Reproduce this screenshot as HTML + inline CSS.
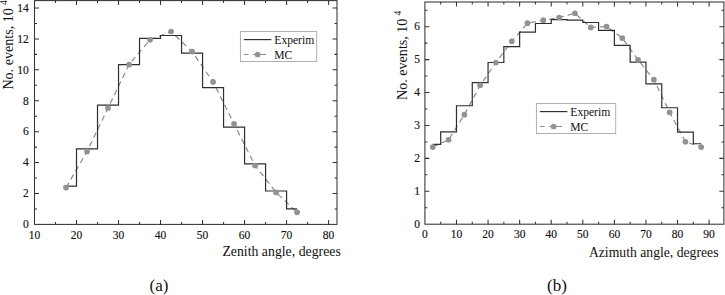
<!DOCTYPE html>
<html><head><meta charset="utf-8"><title>Events vs angle</title>
<style>
html,body{margin:0;padding:0;background:#fff;width:725px;height:295px;overflow:hidden}
svg{display:block;font-family:"Liberation Serif",serif;fill:#111111}
text.t{stroke:#111111;stroke-width:0.15px}
</style></head>
<body>
<svg width="725" height="295" viewBox="0 0 725 295">
<rect width="725" height="295" fill="#fff"/>
<path d="M66.01,187.61 L87.02,151.44 L108.02,108 L129.03,64.57 L150.04,39.84 L171.05,31.49 L192.05,51.58 L213.06,81.88 L234.07,123.93 L255.07,165.51 L276.08,192.4 L297.09,212.34" fill="none" stroke="#8a8a8a" stroke-width="1.2" stroke-dasharray="5.5 4"/>
<path d="M66.01,186.22 L76.51,186.22 L76.51,148.81 L97.52,148.81 L97.52,105.22 L118.53,105.22 L118.53,64.57 L139.53,64.57 L139.53,38.44 L160.54,38.44 L160.54,35.51 L181.55,35.51 L181.55,53.13 L202.56,53.13 L202.56,87.6 L223.56,87.6 L223.56,127.17 L244.57,127.17 L244.57,163.96 L265.58,163.96 L265.58,191.01 L286.58,191.01 L286.58,208.94 L297.09,208.94" fill="none" stroke="#2e2e2e" stroke-width="1.2" stroke-linejoin="miter"/>
<circle cx="66.01" cy="187.61" r="2.85" fill="#929292"/>
<circle cx="87.02" cy="151.44" r="2.85" fill="#929292"/>
<circle cx="108.02" cy="108" r="2.85" fill="#929292"/>
<circle cx="129.03" cy="64.57" r="2.85" fill="#929292"/>
<circle cx="150.04" cy="39.84" r="2.85" fill="#929292"/>
<circle cx="171.05" cy="31.49" r="2.85" fill="#929292"/>
<circle cx="192.05" cy="51.58" r="2.85" fill="#929292"/>
<circle cx="213.06" cy="81.88" r="2.85" fill="#929292"/>
<circle cx="234.07" cy="123.93" r="2.85" fill="#929292"/>
<circle cx="255.07" cy="165.51" r="2.85" fill="#929292"/>
<circle cx="276.08" cy="192.4" r="2.85" fill="#929292"/>
<circle cx="297.09" cy="212.34" r="2.85" fill="#929292"/>
<path d="M76.51,224.4v-4.5M76.51,0.6v4.5M118.53,224.4v-4.5M118.53,0.6v4.5M160.54,224.4v-4.5M160.54,0.6v4.5M202.56,224.4v-4.5M202.56,0.6v4.5M244.57,224.4v-4.5M244.57,0.6v4.5M286.58,224.4v-4.5M286.58,0.6v4.5M328.6,224.4v-4.5M328.6,0.6v4.5M55.51,224.4v-2.5M55.51,0.6v2.5M97.52,224.4v-2.5M97.52,0.6v2.5M139.53,224.4v-2.5M139.53,0.6v2.5M181.55,224.4v-2.5M181.55,0.6v2.5M223.56,224.4v-2.5M223.56,0.6v2.5M265.58,224.4v-2.5M265.58,0.6v2.5M307.59,224.4v-2.5M307.59,0.6v2.5M34.5,193.48h4.5M337,193.48h-4.5M34.5,162.57h4.5M337,162.57h-4.5M34.5,131.65h4.5M337,131.65h-4.5M34.5,100.74h4.5M337,100.74h-4.5M34.5,69.82h4.5M337,69.82h-4.5M34.5,38.91h4.5M337,38.91h-4.5M34.5,7.99h4.5M337,7.99h-4.5M34.5,208.94h2.5M337,208.94h-2.5M34.5,178.03h2.5M337,178.03h-2.5M34.5,147.11h2.5M337,147.11h-2.5M34.5,116.2h2.5M337,116.2h-2.5M34.5,85.28h2.5M337,85.28h-2.5M34.5,54.37h2.5M337,54.37h-2.5M34.5,23.45h2.5M337,23.45h-2.5" stroke="#333333" stroke-width="1.05" fill="none"/>
<rect x="34.5" y="0.6" width="302.5" height="223.8" fill="none" stroke="#333333" stroke-width="1.05"/>
<text x="34.5" y="238.5" text-anchor="middle" class="t" font-size="11.5">10</text>
<text x="76.51" y="238.5" text-anchor="middle" class="t" font-size="11.5">20</text>
<text x="118.53" y="238.5" text-anchor="middle" class="t" font-size="11.5">30</text>
<text x="160.54" y="238.5" text-anchor="middle" class="t" font-size="11.5">40</text>
<text x="202.56" y="238.5" text-anchor="middle" class="t" font-size="11.5">50</text>
<text x="244.57" y="238.5" text-anchor="middle" class="t" font-size="11.5">60</text>
<text x="286.58" y="238.5" text-anchor="middle" class="t" font-size="11.5">70</text>
<text x="328.6" y="238.5" text-anchor="middle" class="t" font-size="11.5">80</text>
<text x="28.7" y="228.2" text-anchor="end" class="t" font-size="11.5">0</text>
<text x="28.7" y="197.28" text-anchor="end" class="t" font-size="11.5">2</text>
<text x="28.7" y="166.37" text-anchor="end" class="t" font-size="11.5">4</text>
<text x="28.7" y="135.45" text-anchor="end" class="t" font-size="11.5">6</text>
<text x="28.7" y="104.54" text-anchor="end" class="t" font-size="11.5">8</text>
<text x="28.7" y="73.62" text-anchor="end" class="t" font-size="11.5">10</text>
<text x="28.7" y="42.71" text-anchor="end" class="t" font-size="11.5">12</text>
<text x="28.7" y="11.79" text-anchor="end" class="t" font-size="11.5">14</text>
<rect x="240.4" y="31.4" width="76.3" height="30.1" fill="#fff" stroke="#a8a8a8" stroke-width="0.9"/>
<path d="M243.8,39.6H271.3" stroke="#2e2e2e" stroke-width="1.2"/>
<text x="274.3" y="43.9" font-size="11.6">Experim</text>
<path d="M243.8,54.5h4.8M253.1,54.5H257.6M260.2,54.5h5.9" stroke="#8a8a8a" stroke-width="1.2"/>
<circle cx="257.6" cy="54.5" r="2.85" fill="#929292"/>
<text x="274.3" y="58.5" font-size="11.6">MC</text>
<text transform="translate(13.3,89.6) rotate(-90)" font-size="14.1">No. events, 10<tspan font-size="9.5" dx="3.2" dy="-6.5">4</tspan></text>
<text x="222.4" y="255.7" font-size="13.8">Zenith angle, degrees</text>
<text x="159" y="291" text-anchor="middle" font-size="17">(a)</text>
<path d="M432.79,147.04 L448.58,139.77 L464.38,114.67 L480.16,85.27 L495.95,62.48 L511.75,41.34 L527.53,23.18 L543.32,20.2 L559.12,17.56 L574.9,13.27 L590.69,27.47 L606.49,26.48 L622.27,38.04 L638.06,59.84 L653.86,79.66 L669.64,112.36 L685.43,141.76 L701.22,147.04" fill="none" stroke="#8a8a8a" stroke-width="1.2" stroke-dasharray="5.5 4"/>
<path d="M432.79,144.4 L440.69,144.4 L440.69,131.85 L456.48,131.85 L456.48,105.75 L472.27,105.75 L472.27,82.63 L488.06,82.63 L488.06,62.48 L503.85,62.48 L503.85,46.63 L519.64,46.63 L519.64,32.1 L535.43,32.1 L535.43,23.51 L551.22,23.51 L551.22,19.54 L567.01,19.54 L567.01,20.2 L582.8,20.2 L582.8,22.52 L598.59,22.52 L598.59,30.44 L614.38,30.44 L614.38,45.31 L630.17,45.31 L630.17,62.15 L645.96,62.15 L645.96,83.95 L661.75,83.95 L661.75,107.73 L677.54,107.73 L677.54,132.18 L693.33,132.18 L693.33,143.74 L701.22,143.74" fill="none" stroke="#2e2e2e" stroke-width="1.2" stroke-linejoin="miter"/>
<circle cx="432.79" cy="147.04" r="2.85" fill="#929292"/>
<circle cx="448.58" cy="139.77" r="2.85" fill="#929292"/>
<circle cx="464.38" cy="114.67" r="2.85" fill="#929292"/>
<circle cx="480.16" cy="85.27" r="2.85" fill="#929292"/>
<circle cx="495.95" cy="62.48" r="2.85" fill="#929292"/>
<circle cx="511.75" cy="41.34" r="2.85" fill="#929292"/>
<circle cx="527.53" cy="23.18" r="2.85" fill="#929292"/>
<circle cx="543.32" cy="20.2" r="2.85" fill="#929292"/>
<circle cx="559.12" cy="17.56" r="2.85" fill="#929292"/>
<circle cx="574.9" cy="13.27" r="2.85" fill="#929292"/>
<circle cx="590.69" cy="27.47" r="2.85" fill="#929292"/>
<circle cx="606.49" cy="26.48" r="2.85" fill="#929292"/>
<circle cx="622.27" cy="38.04" r="2.85" fill="#929292"/>
<circle cx="638.06" cy="59.84" r="2.85" fill="#929292"/>
<circle cx="653.86" cy="79.66" r="2.85" fill="#929292"/>
<circle cx="669.64" cy="112.36" r="2.85" fill="#929292"/>
<circle cx="685.43" cy="141.76" r="2.85" fill="#929292"/>
<circle cx="701.22" cy="147.04" r="2.85" fill="#929292"/>
<path d="M456.48,224.2v-4.5M456.48,2v4.5M488.06,224.2v-4.5M488.06,2v4.5M519.64,224.2v-4.5M519.64,2v4.5M551.22,224.2v-4.5M551.22,2v4.5M582.8,224.2v-4.5M582.8,2v4.5M614.38,224.2v-4.5M614.38,2v4.5M645.96,224.2v-4.5M645.96,2v4.5M677.54,224.2v-4.5M677.54,2v4.5M709.12,224.2v-4.5M709.12,2v4.5M440.69,224.2v-2.5M440.69,2v2.5M472.27,224.2v-2.5M472.27,2v2.5M503.85,224.2v-2.5M503.85,2v2.5M535.43,224.2v-2.5M535.43,2v2.5M567.01,224.2v-2.5M567.01,2v2.5M598.59,224.2v-2.5M598.59,2v2.5M630.17,224.2v-2.5M630.17,2v2.5M661.75,224.2v-2.5M661.75,2v2.5M693.33,224.2v-2.5M693.33,2v2.5M424.9,191.28h4.5M723.9,191.28h-4.5M424.9,158.36h4.5M723.9,158.36h-4.5M424.9,125.44h4.5M723.9,125.44h-4.5M424.9,92.52h4.5M723.9,92.52h-4.5M424.9,59.6h4.5M723.9,59.6h-4.5M424.9,26.68h4.5M723.9,26.68h-4.5M424.9,207.74h2.5M723.9,207.74h-2.5M424.9,174.82h2.5M723.9,174.82h-2.5M424.9,141.9h2.5M723.9,141.9h-2.5M424.9,108.98h2.5M723.9,108.98h-2.5M424.9,76.06h2.5M723.9,76.06h-2.5M424.9,43.14h2.5M723.9,43.14h-2.5M424.9,10.22h2.5M723.9,10.22h-2.5" stroke="#333333" stroke-width="1.05" fill="none"/>
<rect x="424.9" y="2" width="299" height="222.2" fill="none" stroke="#333333" stroke-width="1.05"/>
<text x="424.9" y="238.3" text-anchor="middle" class="t" font-size="11.5">0</text>
<text x="456.48" y="238.3" text-anchor="middle" class="t" font-size="11.5">10</text>
<text x="488.06" y="238.3" text-anchor="middle" class="t" font-size="11.5">20</text>
<text x="519.64" y="238.3" text-anchor="middle" class="t" font-size="11.5">30</text>
<text x="551.22" y="238.3" text-anchor="middle" class="t" font-size="11.5">40</text>
<text x="582.8" y="238.3" text-anchor="middle" class="t" font-size="11.5">50</text>
<text x="614.38" y="238.3" text-anchor="middle" class="t" font-size="11.5">60</text>
<text x="645.96" y="238.3" text-anchor="middle" class="t" font-size="11.5">70</text>
<text x="677.54" y="238.3" text-anchor="middle" class="t" font-size="11.5">80</text>
<text x="709.12" y="238.3" text-anchor="middle" class="t" font-size="11.5">90</text>
<text x="419.9" y="228" text-anchor="end" class="t" font-size="11.5">0</text>
<text x="419.9" y="195.08" text-anchor="end" class="t" font-size="11.5">1</text>
<text x="419.9" y="162.16" text-anchor="end" class="t" font-size="11.5">2</text>
<text x="419.9" y="129.24" text-anchor="end" class="t" font-size="11.5">3</text>
<text x="419.9" y="96.32" text-anchor="end" class="t" font-size="11.5">4</text>
<text x="419.9" y="63.4" text-anchor="end" class="t" font-size="11.5">5</text>
<text x="419.9" y="30.48" text-anchor="end" class="t" font-size="11.5">6</text>
<rect x="536.4" y="103.4" width="79.3" height="30.1" fill="#fff" stroke="#a8a8a8" stroke-width="0.9"/>
<path d="M539.8,111.6H567.3" stroke="#2e2e2e" stroke-width="1.2"/>
<text x="570.3" y="115.9" font-size="11.6">Experim</text>
<path d="M539.8,126.5h4.8M549.1,126.5H553.6M556.2,126.5h5.9" stroke="#8a8a8a" stroke-width="1.2"/>
<circle cx="553.6" cy="126.5" r="2.85" fill="#929292"/>
<text x="570.3" y="130.5" font-size="11.6">MC</text>
<text transform="translate(407,100) rotate(-90)" font-size="14.1">No. events, 10<tspan font-size="9.5" dx="3.2" dy="-6.5">4</tspan></text>
<text x="588.9" y="256.7" font-size="13.7">Azimuth angle, degrees</text>
<text x="557" y="291" text-anchor="middle" font-size="17">(b)</text>
</svg>
</body></html>
